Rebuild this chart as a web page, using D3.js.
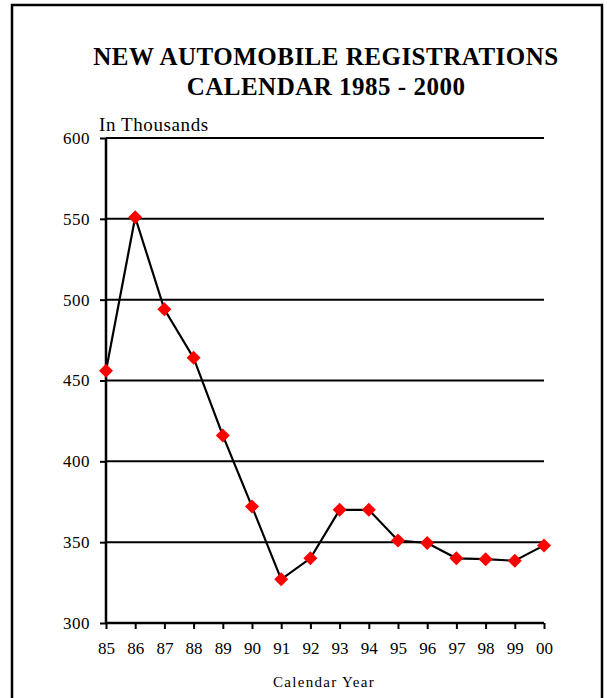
<!DOCTYPE html>
<meta charset="utf-8" />
<style>
  body { margin: 0; background: #fff; }
  text { font-family: "Liberation Serif", "Times New Roman", serif; fill: #000; }
</style>
<svg width="607" height="698"></svg>
<script src="https://d3js.org/d3.v7.min.js"></script>
<script>
    var svg = d3.select("svg");

    // data
    var years = ["85", "86", "87", "88", "89", "90", "91", "92", "93", "94", "95", "96", "97", "98", "99", "00"];
    var registrations = [456, 551, 494, 464, 416, 372, 327, 340, 370, 370, 351, 349.5, 340, 339.5, 338.5, 348];
    var yTicks = [300, 350, 400, 450, 500, 550, 600];
    var titleLines = ["NEW AUTOMOBILE REGISTRATIONS", "CALENDAR 1985 - 2000"];

    var plotLeft = 106, plotRight = 544, plotTop = 138, plotBottom = 623;

    // frame round the whole chart
    svg.append("path")
        .attr("d", "M12,700 V5 H602 V700")
        .attr("fill", "none")
        .attr("stroke", "#000")
        .attr("stroke-width", 2.5);

    var x = d3.scalePoint().domain(years).range([plotLeft, plotRight]);
    var y = d3.scaleLinear().domain([300, 600]).range([plotBottom, plotTop]);

    // title
    svg.append("g").selectAll("text")
        .data(titleLines)
        .enter()
        .append("text")
        .attr("x", 326)
        .attr("y", (d, i) => 65 + i * 30)
        .attr("text-anchor", "middle")
        .style("font-size", "25px")
        .style("font-weight", "bold")
        .style("letter-spacing", "0.5px")
        .text(d => d);

    // y ticks + labels
    var yAxis = svg.append("g")
        .attr("transform", "translate(" + plotLeft + ",0)")
        .call(d3.axisLeft(y).tickValues(yTicks).tickSize(6).tickPadding(10).tickFormat(d3.format("d")));
    yAxis.select(".domain").remove();
    yAxis.selectAll("line").attr("stroke-width", 2);
    yAxis.selectAll("text").style("font-size", "17px").style("letter-spacing", "0.5px").attr("font-family", null);

    // gridlines
    svg.append("g").selectAll("line")
        .data(yTicks)
        .enter()
        .append("line")
        .attr("x1", plotLeft)
        .attr("x2", plotRight)
        .attr("y1", d => y(d))
        .attr("y2", d => y(d))
        .attr("stroke", "#000")
        .attr("stroke-width", 2);

    // vertical axis
    svg.append("line")
        .attr("x1", plotLeft).attr("x2", plotLeft)
        .attr("y1", plotTop).attr("y2", plotBottom)
        .attr("stroke", "#000")
        .attr("stroke-width", 2.5);

    // x axis
    var xAxis = svg.append("g")
        .attr("transform", "translate(0," + plotBottom + ")")
        .call(d3.axisBottom(x).tickSize(6).tickPadding(13));
    xAxis.select(".domain").attr("stroke-width", 2.5).attr("d", "M" + plotLeft + ",0H" + plotRight);
    xAxis.selectAll("line").attr("stroke-width", 2);
    xAxis.selectAll("text").style("font-size", "17px").attr("font-family", null);

    svg.append("text")
        .attr("x", 99)
        .attr("y", 131)
        .style("font-size", "19px")
        .style("letter-spacing", "0.6px")
        .text("In Thousands");

    svg.append("text")
        .attr("x", 324)
        .attr("y", 687)
        .attr("text-anchor", "middle")
        .style("font-size", "15px")
        .style("letter-spacing", "1.3px")
        .text("Calendar Year");

    // line + markers
    var line = d3.line()
        .x((d, i) => x(years[i]))
        .y(d => y(d));

    svg.append("path")
        .datum(registrations)
        .attr("d", line)
        .attr("fill", "none")
        .attr("stroke", "#000")
        .attr("stroke-width", 2.2);

    svg.append("g").selectAll("path")
        .data(registrations)
        .enter()
        .append("path")
        .attr("d", d3.symbol().type(d3.symbolSquare).size(98))
        .attr("transform", (d, i) => "translate(" + x(years[i]) + "," + y(d) + ") rotate(45)")
        .attr("fill", "#ff0000");
</script>
